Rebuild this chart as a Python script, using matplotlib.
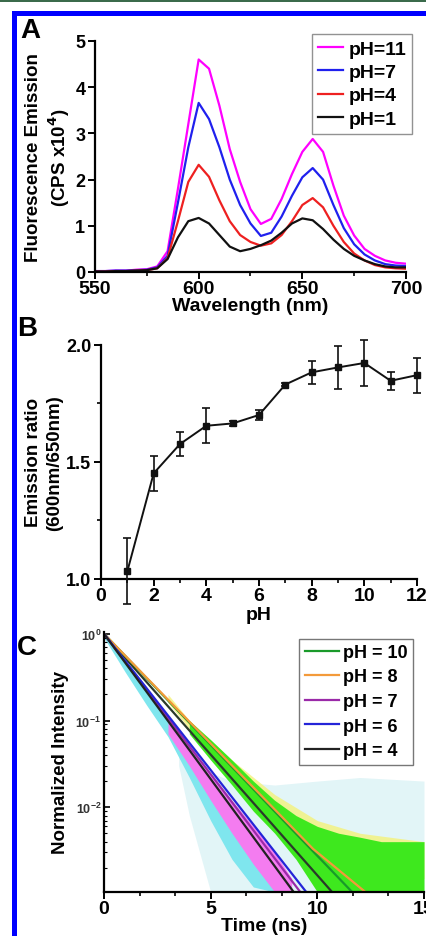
import numpy as np
import matplotlib
matplotlib.use('Agg')
import matplotlib.pyplot as plt
from matplotlib.patches import Rectangle
from matplotlib.ticker import MultipleLocator, LogLocator, NullFormatter

plt.rcParams['font.family'] = ['Liberation Sans', 'DejaVu Sans']
plt.rcParams['font.weight'] = 'bold'
plt.rcParams['axes.linewidth'] = 1.6

# Panel A: emission spectra
wavelength = [550, 555, 560, 565, 570, 575, 580, 585, 590, 595, 600, 605, 610, 615, 620, 625,
              630, 635, 640, 645, 650, 655, 660, 665, 670, 675, 680, 685, 690, 695, 700]
em_ph11 = [0.02, 0.02, 0.03, 0.03, 0.05, 0.06, 0.12, 0.45, 1.8, 3.2, 4.6, 4.4, 3.6, 2.66, 1.95, 1.36,
           1.04, 1.15, 1.58, 2.12, 2.6, 2.88, 2.6, 1.87, 1.22, 0.79, 0.5, 0.35, 0.25, 0.2, 0.18]
em_ph7 = [0.02, 0.02, 0.03, 0.03, 0.04, 0.05, 0.1, 0.35, 1.5, 2.7, 3.66, 3.31, 2.7, 2.0, 1.45, 1.05,
          0.78, 0.85, 1.2, 1.65, 2.05, 2.25, 2.0, 1.45, 0.95, 0.6, 0.38, 0.25, 0.17, 0.14, 0.13]
em_ph4 = [0.01, 0.01, 0.02, 0.02, 0.03, 0.04, 0.08, 0.3, 1.1, 1.95, 2.32, 2.06, 1.55, 1.1, 0.8, 0.65,
          0.57, 0.62, 0.8, 1.1, 1.45, 1.6, 1.4, 1.0, 0.65, 0.4, 0.25, 0.15, 0.1, 0.08, 0.07]
em_ph1 = [0.01, 0.01, 0.02, 0.02, 0.03, 0.04, 0.08, 0.28, 0.75, 1.1, 1.17, 1.05, 0.8, 0.55, 0.45, 0.5,
          0.58, 0.68, 0.85, 1.05, 1.16, 1.12, 0.93, 0.7, 0.5, 0.35, 0.25, 0.17, 0.12, 0.1, 0.1]
spectra = [('pH=11', em_ph11, '#ff00ff'), ('pH=7', em_ph7, '#2020ee'),
           ('pH=4', em_ph4, '#ee2020'), ('pH=1', em_ph1, '#111111')]

# Panel B: emission ratio vs pH
ph_vals = [1, 2, 3, 4, 5, 6, 7, 8, 9, 10, 11, 12]
ratio = [1.033, 1.451, 1.576, 1.654, 1.664, 1.70, 1.83, 1.882, 1.903, 1.922, 1.846, 1.87]
ratio_err = [0.14, 0.075, 0.05, 0.075, 0.01, 0.022, 0.005, 0.048, 0.09, 0.10, 0.038, 0.075]

# Panel C: fitted decay curves (time in ns, normalized intensity)
fit_lines = [
    ('pH = 10', [0, 11.63], [1.0, 1.05e-3], '#1a9a2a'),
    ('pH = 8', [0, 9.8, 12.25], [1.0, 3.3e-3, 1.05e-3], '#f39a3a'),
    ('pH = 7', [0, 9.2], [1.0, 1.05e-3], '#9a2aa8'),
    ('pH = 6', [0, 9.48], [1.0, 1.05e-3], '#2424d8'),
    ('pH = 4', [0, 8.89], [1.0, 1.05e-3], '#222222'),
]
extra_fit = ([0, 10.69], [1.0, 1.05e-3], '#2a3a2a')

# raw decay envelopes
spike_t = [3.5, 4, 5, 6, 8, 10, 12, 15]
spike_hi = [0.05, 0.03, 0.025, 0.02, 0.018, 0.02, 0.022, 0.02]
spike_lo = [0.03, 0.008, 1.05e-3, 1.05e-3, 1.05e-3, 1.05e-3, 1.05e-3, 1.05e-3]
cyan_t = [0, 1, 2, 3, 4, 5, 6, 7, 8]
cyan_hi = [1.0, 0.46, 0.21, 0.1, 0.046, 0.021, 0.01, 0.0045, 0.002]
cyan_lo = [0.9, 0.36, 0.15, 0.065, 0.022, 0.007, 0.0025, 1.2e-3, 1.05e-3]
mag_t = [3, 4, 5, 6, 7, 8, 8.8]
mag_hi = [0.1, 0.05, 0.024, 0.012, 0.006, 0.003, 0.0015]
mag_lo = [0.07, 0.03, 0.012, 0.005, 0.0022, 1.05e-3, 1.05e-3]
yel_t = [3, 4, 6, 8, 10, 12, 15]
yel_hi = [0.2, 0.1, 0.035, 0.014, 0.007, 0.005, 0.004]
yel_lo = [0.16, 0.08, 0.025, 0.008, 0.003, 0.002, 0.0015]
grn_t = [4, 5, 6, 7, 8, 9, 10, 11, 12, 13, 14, 15]
grn_hi = [0.1, 0.06, 0.035, 0.02, 0.012, 0.008, 0.006, 0.005, 0.0045, 0.004, 0.004, 0.004]
grn_lo = [0.07, 0.035, 0.018, 0.009, 0.005, 0.0025, 1.05e-3, 1.05e-3, 1.05e-3, 1.05e-3, 1.05e-3, 1.05e-3]

fig = plt.figure(figsize=(4.26, 9.37), dpi=100)

# frame decorations
fig.patches.append(Rectangle((0, 1 - 3 / 937), 1, 3 / 937, transform=fig.transFigure,
                             facecolor='#3b6b4b', edgecolor='none'))
fig.patches.append(Rectangle((14 / 426, -0.01), 1.1, 1 - 13.5 / 937 + 0.01, transform=fig.transFigure,
                             facecolor='none', edgecolor='#0000ff', linewidth=3.6))

tick_kw = dict(direction='out', width=1.4, labelsize=14)

# ---- Panel A
axA = fig.add_axes([95 / 426, 1 - 273 / 937, 311 / 426, 231 / 937])
for lab, vals, col in spectra:
    axA.plot(wavelength, vals, color=col, lw=1.6, label=lab)
axA.set_xlim(550, 700)
axA.set_ylim(0, 5)
axA.xaxis.set_major_locator(MultipleLocator(50))
axA.xaxis.set_minor_locator(MultipleLocator(25))
axA.yaxis.set_major_locator(MultipleLocator(1))
axA.tick_params(axis='both', which='major', length=5, **tick_kw)
axA.tick_params(axis='both', which='minor', length=3, width=1.2, direction='out')
axA.tick_params(axis='y', labelsize=13, pad=2)
axA.tick_params(axis='x', pad=1)
for s in ['top', 'right']:
    axA.spines[s].set_visible(False)
axA.set_xlabel('Wavelength (nm)', fontsize=14, fontweight='bold', labelpad=0)
axA.set_ylabel('Fluorescence Emission\n(CPS x10$^\\mathbf{4}$)', fontsize=13.5, fontweight='bold',
               labelpad=2, linespacing=1.25)
legA = axA.legend(loc='upper right', bbox_to_anchor=(1.02, 1.03), fontsize=14, frameon=True,
                  fancybox=False, edgecolor='#777777', handlelength=1.3, handletextpad=0.3,
                  labelspacing=0.3, borderpad=0.3, borderaxespad=0)
legA.get_frame().set_linewidth(1.0)
fig.text(20 / 426, 1 - 38 / 937, 'A', fontsize=20, fontweight='bold')

# ---- Panel B
axB = fig.add_axes([101 / 426, 1 - 580 / 937, 316 / 426, 234.3 / 937])
axB.errorbar(ph_vals, ratio, yerr=ratio_err, color='#111111', lw=1.4, marker='s', ms=5,
             capsize=3, elinewidth=1.2, capthick=1.2, clip_on=False, zorder=3)
axB.set_xlim(0, 12)
axB.set_ylim(1.0, 2.0)
axB.xaxis.set_major_locator(MultipleLocator(2))
axB.xaxis.set_minor_locator(MultipleLocator(1))
axB.yaxis.set_major_locator(MultipleLocator(0.5))
axB.yaxis.set_minor_locator(MultipleLocator(0.25))
axB.yaxis.set_major_formatter(matplotlib.ticker.FormatStrFormatter('%.1f'))
axB.tick_params(axis='both', which='major', length=5, **tick_kw)
axB.tick_params(axis='both', which='minor', length=3, width=1.2, direction='out')
axB.tick_params(axis='y', labelsize=13, pad=2)
axB.tick_params(axis='x', pad=1)
for s in ['top', 'right']:
    axB.spines[s].set_visible(False)
axB.set_xlabel('pH', fontsize=14, fontweight='bold', labelpad=1)
axB.set_ylabel('Emission ratio\n(600nm/650nm)', fontsize=13.5, fontweight='bold', labelpad=2,
               linespacing=1.3)
fig.text(17 / 426, 1 - 336 / 937, 'B', fontsize=20, fontweight='bold')

# ---- Panel C
axC = fig.add_axes([104 / 426, 1 - 893 / 937, 320 / 426, 260 / 937])
axC.fill_between(spike_t, spike_lo, spike_hi, color='#9fdfe6', alpha=0.3, lw=0)
axC.fill_between(cyan_t, cyan_lo, cyan_hi, color='#7fe6ee', lw=0)
axC.fill_between(yel_t, yel_lo, yel_hi, color='#f4f27a', alpha=0.8, lw=0)
axC.fill_between(mag_t, mag_lo, mag_hi, color='#f47cf0', lw=0)
axC.fill_between(grn_t, grn_lo, grn_hi, color='#3ee81e', lw=0)
axC.plot(extra_fit[0], extra_fit[1], color=extra_fit[2], lw=1.6)
for lab, t, y, col in fit_lines:
    axC.plot(t, y, color=col, lw=1.6, label=lab)
axC.set_yscale('log')
axC.set_xlim(0, 15)
axC.set_ylim(1.05e-3, 1.05)
axC.xaxis.set_major_locator(MultipleLocator(5))
axC.xaxis.set_minor_locator(MultipleLocator(5 / 3))
axC.yaxis.set_major_locator(LogLocator(base=10, numticks=10))
axC.yaxis.set_minor_locator(LogLocator(base=10, subs=np.arange(2, 10), numticks=20))
axC.yaxis.set_minor_formatter(NullFormatter())
axC.tick_params(axis='x', which='major', length=5, **tick_kw)
axC.tick_params(axis='x', which='minor', length=3, width=1.2, direction='out')
axC.tick_params(axis='y', which='major', length=4, width=1.2, direction='in', labelsize=9, pad=2,
                labelcolor='#333333')
axC.tick_params(axis='y', which='minor', length=2.5, width=0.8, direction='in')
axC.tick_params(axis='x', pad=1)
for s in ['top', 'right']:
    axC.spines[s].set_visible(False)
axC.set_xlabel('Time (ns)', fontsize=14, fontweight='bold', labelpad=0)
axC.set_ylabel('Normalized Intensity', fontsize=13.5, fontweight='bold', labelpad=5)
legC = axC.legend(loc='upper right', bbox_to_anchor=(0.965, 0.975), fontsize=13, frameon=True,
                  fancybox=False, edgecolor='#777777', handlelength=1.9, handletextpad=0.2,
                  labelspacing=0.42, borderpad=0.3, borderaxespad=0, framealpha=1)
legC.get_frame().set_linewidth(1.0)
fig.text(17 / 426, 1 - 655 / 937, 'C', fontsize=20, fontweight='bold')

fig.savefig('out.png', dpi=100)
